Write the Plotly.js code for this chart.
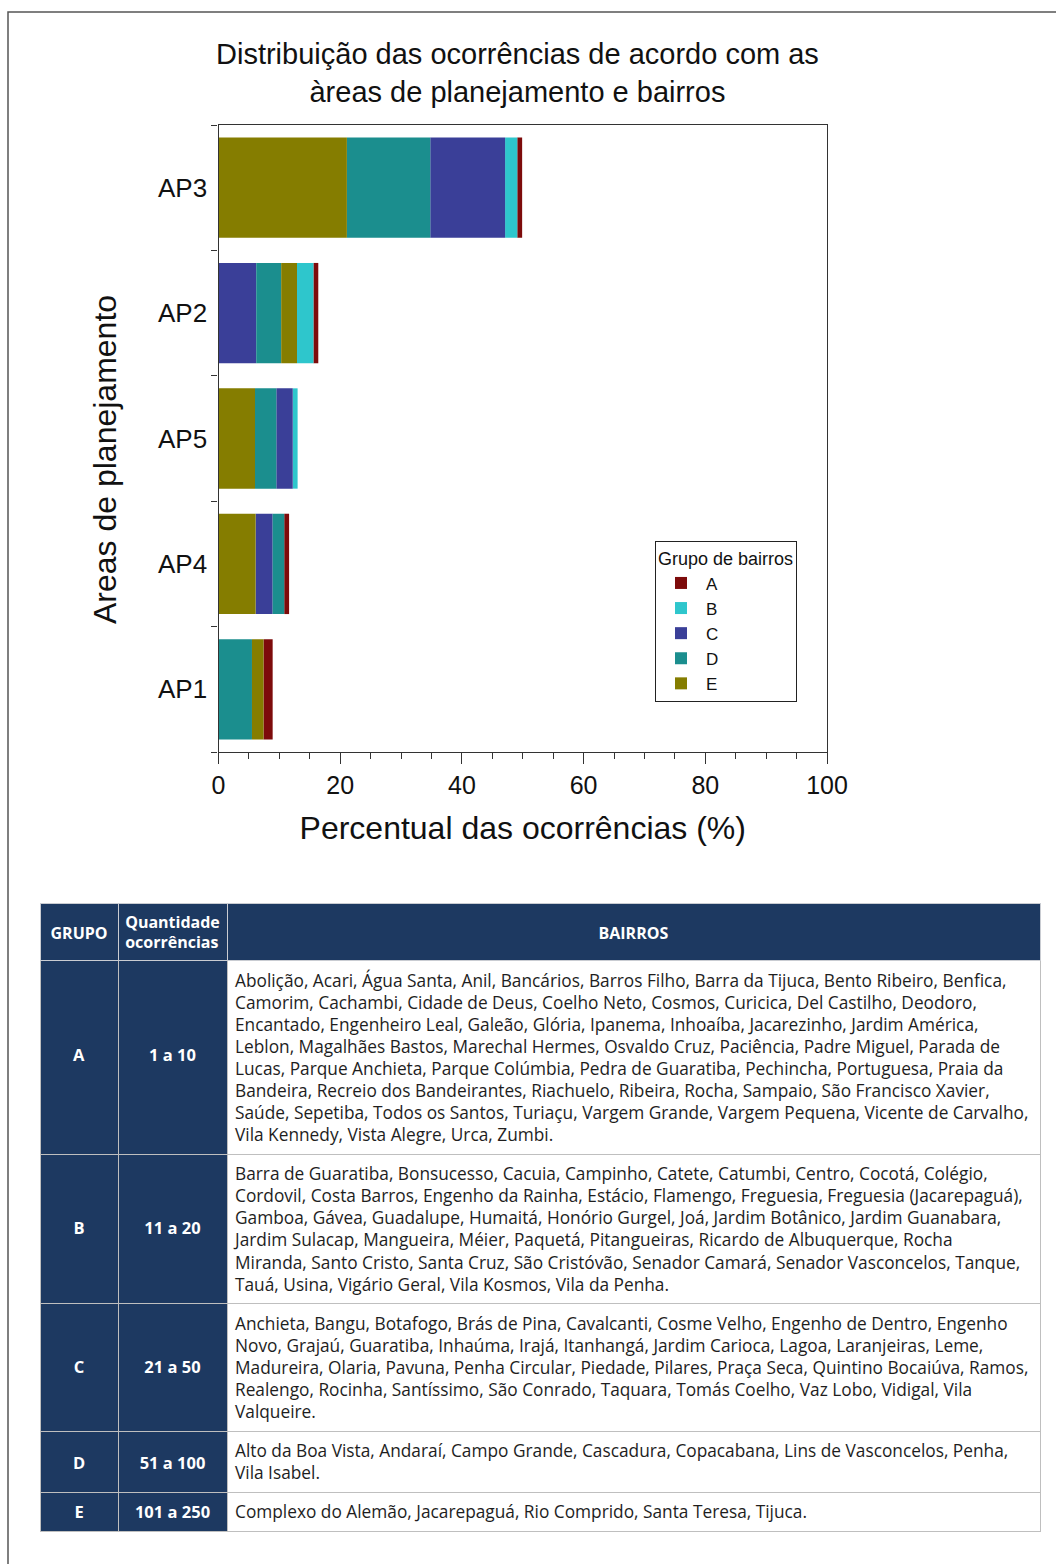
<!DOCTYPE html>
<html><head><meta charset="utf-8">
<script src="https://cdn.plot.ly/plotly-3.0.1.min.js"></script>
<style>html,body{margin:0;padding:0;background:#fff}#chart{width:1056px;height:1564px}</style>
</head><body><div id="chart"></div>
<script>
// ---- chart data (categories bottom to top) ----
const categories = ['AP1', 'AP4', 'AP5', 'AP2', 'AP3'];
const groupNames = ['A', 'B', 'C', 'D', 'E'];
const groupColors = ['#7d0b0b', '#2ec6cc', '#3a3f98', '#1b8e8e', '#857d00'];
const valuesA = [1.5, 0.8, 0.0, 0.8, 0.8];
const valuesB = [0.0, 0.0, 0.8, 2.7, 2.0];
const valuesC = [0.0, 2.8, 2.7, 6.2, 12.3];
const valuesD = [5.5, 1.9, 3.5, 4.1, 13.7];
const valuesE = [1.9, 6.1, 6.0, 2.6, 21.1];
// stacking order (left to right) inside each bar, same order as categories
const stackOrders = [
  ['D', 'E', 'C', 'B', 'A'],
  ['E', 'C', 'D', 'B', 'A'],
  ['E', 'D', 'C', 'B', 'A'],
  ['C', 'D', 'E', 'B', 'A'],
  ['E', 'D', 'C', 'B', 'A']
];
const xTickValues = [0, 20, 40, 60, 80, 100];

// ---- table data ----
const tableHeader = ['GRUPO', 'Quantidade', 'ocorrências', 'BAIRROS'];
const tableGroups = ['A', 'B', 'C', 'D', 'E'];
const tableRanges = ['1 a 10', '11 a 20', '21 a 50', '51 a 100', '101 a 250'];
const bairrosA = [
  'Abolição, Acari, Água Santa, Anil, Bancários, Barros Filho, Barra da Tijuca, Bento Ribeiro, Benfica,',
  'Camorim, Cachambi, Cidade de Deus, Coelho Neto, Cosmos, Curicica, Del Castilho, Deodoro,',
  'Encantado, Engenheiro Leal, Galeão, Glória, Ipanema, Inhoaíba, Jacarezinho, Jardim América,',
  'Leblon, Magalhães Bastos, Marechal Hermes, Osvaldo Cruz, Paciência, Padre Miguel, Parada de',
  'Lucas, Parque Anchieta, Parque Colúmbia, Pedra de Guaratiba, Pechincha, Portuguesa, Praia da',
  'Bandeira, Recreio dos Bandeirantes, Riachuelo, Ribeira, Rocha, Sampaio, São Francisco Xavier,',
  'Saúde, Sepetiba, Todos os Santos, Turiaçu, Vargem Grande, Vargem Pequena, Vicente de Carvalho,',
  'Vila Kennedy, Vista Alegre, Urca, Zumbi.'
];
const bairrosB = [
  'Barra de Guaratiba, Bonsucesso, Cacuia, Campinho, Catete, Catumbi, Centro, Cocotá, Colégio,',
  'Cordovil, Costa Barros, Engenho da Rainha, Estácio, Flamengo, Freguesia, Freguesia (Jacarepaguá),',
  'Gamboa, Gávea, Guadalupe, Humaitá, Honório Gurgel, Joá, Jardim Botânico, Jardim Guanabara,',
  'Jardim Sulacap, Mangueira, Méier, Paquetá, Pitangueiras, Ricardo de Albuquerque, Rocha',
  'Miranda, Santo Cristo, Santa Cruz, São Cristóvão, Senador Camará, Senador Vasconcelos, Tanque,',
  'Tauá, Usina, Vigário Geral, Vila Kosmos, Vila da Penha.'
];
const bairrosC = [
  'Anchieta, Bangu, Botafogo, Brás de Pina, Cavalcanti, Cosme Velho, Engenho de Dentro, Engenho',
  'Novo, Grajaú, Guaratiba, Inhaúma, Irajá, Itanhangá, Jardim Carioca, Lagoa, Laranjeiras, Leme,',
  'Madureira, Olaria, Pavuna, Penha Circular, Piedade, Pilares, Praça Seca, Quintino Bocaiúva, Ramos,',
  'Realengo, Rocinha, Santíssimo, São Conrado, Taquara, Tomás Coelho, Vaz Lobo, Vidigal, Vila',
  'Valqueire.'
];
const bairrosD = [
  'Alto da Boa Vista, Andaraí, Campo Grande, Cascadura, Copacabana, Lins de Vasconcelos, Penha,',
  'Vila Isabel.'
];
const bairrosE = [
  'Complexo do Alemão, Jacarepaguá, Rio Comprido, Santa Teresa, Tijuca.'
];

// ---- build ----
const W = 1056, H = 1564;
const valuesByGroup = {A: valuesA, B: valuesB, C: valuesC, D: valuesD, E: valuesE};

const barTraces = groupNames.map((g, gi) => {
  const base = categories.map((c, ci) => {
    let s = 0;
    for (const h of stackOrders[ci]) { if (h === g) break; s += valuesByGroup[h][ci]; }
    return s;
  });
  return {
    type: 'bar', orientation: 'h', name: g,
    y: categories, x: valuesByGroup[g], base: base,
    width: 0.8,
    marker: {color: groupColors[gi], line: {width: 0}},
    hovertemplate: '%{y} ' + g + ': %{x:.1f}%<extra></extra>'
  };
});

// table text styling helpers (small base font gives fine vertical steps)
const navy = '#1d3961';
const bodyFont = 17;             // BAIRROS column base font (sets line pitch)
const bodyGlyph = 17.3;          // BAIRROS glyph size
const stepFont = 8;              // base font of the first two columns
const step = stepFont * 1.3;
const span = (t, sz, bold) => '<span style="font-size:' + sz + 'px">' + (bold ? '<b>' + t + '</b>' : t) + '</span>';
const bairrosLists = [bairrosA, bairrosB, bairrosC, bairrosD, bairrosE];
const centerLead = n => {
  const rowH = (n - 1) * bodyFont * 1.3 + bodyFont * 1.25 + 16;
  let k = Math.round((rowH / 2 - 10.6) / step);
  k = Math.min(k, Math.floor((rowH - 37) / step));
  return k > 0 ? '\u00a0' + '<br>'.repeat(k) : '';
};
const withBreak = s => (s.indexOf('<br>') >= 0 ? s : s + '<br>');
const groupCells = tableGroups.map((g, i) => withBreak(centerLead(bairrosLists[i].length) + span(g, 16.5, true)));
const rangeCells = tableRanges.map((r, i) => withBreak(centerLead(bairrosLists[i].length) + span(r, 16.5, true)));
const bairrosCells = bairrosLists.map(l => withBreak(l.map(t => span(t, bodyGlyph, false)).join('<br>')));
const headerCells = [
  '\u00a0<br><br>' + span(tableHeader[0], 16, true),
  span(tableHeader[1], 16, true) + '<br><br>' + span(tableHeader[2], 16, true),
  '\u00a0<br><br>' + span(tableHeader[3], 16, true)
];

const tableTrace = {
  type: 'table',
  domain: {x: [40 / W, 1040 / W], y: [0, 1 - 903 / H]},
  columnwidth: [78, 109, 813],
  header: {
    values: headerCells,
    align: 'center',
    fill: {color: navy},
    line: {color: '#c9ccd2', width: 1},
    font: {family: '"Open Sans", sans-serif', size: 7.5, color: '#ffffff'},
    height: 40
  },
  cells: {
    values: [groupCells, rangeCells, bairrosCells],
    align: ['center', 'center', 'left'],
    fill: {color: [navy, navy, '#ffffff']},
    line: {color: '#bfbfbf', width: 1},
    font: {family: '"Open Sans", sans-serif', size: [stepFont, stepFont, bodyFont], color: ['#ffffff', '#ffffff', '#1e1e1e']},
    height: 20
  }
};

const axisColor = '#333333';
const layout = {
  width: W, height: H,
  margin: {l: 0, r: 0, t: 0, b: 0},
  paper_bgcolor: '#ffffff', plot_bgcolor: '#ffffff',
  font: {family: '"Liberation Sans", Arial, sans-serif', color: '#111111'},
  showlegend: true,
  barmode: 'overlay',
  title: {
    text: 'Distribuição das ocorrências de acordo com as<br>àreas de planejamento e bairros',
    font: {size: 29, color: '#111111'},
    x: 0.49, xanchor: 'center', y: 1 - 64 / H, yanchor: 'middle'
  },
  xaxis: {
    domain: [218.5 / W, 827 / W],
    range: [0, 100], tickvals: xTickValues,
    ticks: 'outside', ticklen: 11, tickwidth: 1.2, tickcolor: axisColor,
    minor: {dtick: 5, ticks: 'outside', ticklen: 6, tickwidth: 1, tickcolor: axisColor, showgrid: false},
    showline: true, linecolor: axisColor, linewidth: 1.2, mirror: true,
    showgrid: false, zeroline: false,
    tickfont: {size: 25, color: '#111111'},
    title: {text: 'Percentual das ocorrências (%)', font: {size: 32, color: '#111111'}, standoff: 18},
    fixedrange: true
  },
  yaxis: {
    domain: [1 - 752 / H, 1 - 125 / H],
    type: 'category', categoryorder: 'array', categoryarray: categories,
    range: [-0.5, 4.5],
    tickson: 'boundaries', ticks: 'outside', ticklen: 6, tickwidth: 1.2, tickcolor: axisColor,
    ticklabelstandoff: 5,
    showline: true, linecolor: axisColor, linewidth: 1.2, mirror: true,
    showgrid: false, zeroline: false,
    tickfont: {size: 26, color: '#111111'},
    fixedrange: true
  },
  legend: {
    x: 655 / W, y: 1 - 541 / H, xanchor: 'left', yanchor: 'top',
    bordercolor: '#222222', borderwidth: 1, bgcolor: '#ffffff',
    font: {size: 17, color: '#111111'},
    title: {text: 'Grupo de bairros', font: {size: 18, color: '#111111'}},
    traceorder: 'normal', itemwidth: 40, tracegroupgap: 0
  },
  annotations: [{
    text: 'Areas de planejamento', textangle: -90,
    xref: 'paper', yref: 'paper', x: 105 / W, y: 1 - 460 / H,
    xanchor: 'center', yanchor: 'middle', showarrow: false,
    font: {size: 32, color: '#111111'}
  }],
  shapes: [{
    type: 'rect', xref: 'paper', yref: 'paper',
    x0: 8 / W, x1: 1.02, y0: -0.02, y1: 1 - 12 / H,
    line: {color: '#555555', width: 1.5}, fillcolor: 'rgba(0,0,0,0)', layer: 'below'
  }]
};

Plotly.newPlot('chart', barTraces.concat([tableTrace]), layout, {displayModeBar: false});
</script>
</body></html>
